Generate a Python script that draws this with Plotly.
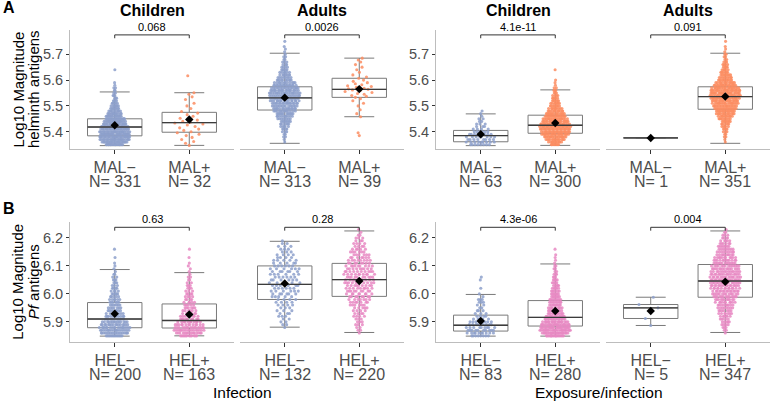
import numpy as np
import plotly.graph_objects as go

# ------------------------------------------------------------------ data
levels_A = [5.35, 5.36, 5.37, 5.38, 5.39, 5.40, 5.41, 5.42, 5.43, 5.44,
            5.45, 5.46, 5.47, 5.48, 5.49, 5.50, 5.51, 5.52, 5.53, 5.54,
            5.55, 5.56, 5.57, 5.58, 5.59, 5.60, 5.61, 5.62, 5.63, 5.64,
            5.65, 5.66, 5.67, 5.68, 5.69, 5.70, 5.71, 5.72, 5.73, 5.74,
            5.75, 5.76]
levels_B = [5.85, 5.86, 5.87, 5.88, 5.89, 5.90, 5.91, 5.92, 5.93, 5.94,
            5.95, 5.96, 5.97, 5.98, 5.99, 6.00, 6.01, 6.02, 6.03, 6.04,
            6.05, 6.06, 6.07, 6.08, 6.09, 6.10, 6.11, 6.12, 6.13, 6.14,
            6.15, 6.16, 6.17, 6.18, 6.19, 6.20, 6.21, 6.22, 6.23]

# counts of points per level
A_inf_child_neg = [20, 24, 26, 27, 27, 26, 25, 23, 21, 19, 17, 14, 13, 10, 8, 7, 5, 4, 3, 3,
                   2, 2, 2, 1, 1, 0, 0, 0, 0, 1, 0, 0, 0, 0, 0, 0, 0, 0, 0, 0, 0, 0]
A_inf_adult_neg = [0, 1, 1, 2, 2, 3, 4, 5, 6, 7, 8, 10, 12, 13, 15, 15, 17, 17, 19, 18,
                   20, 19, 17, 15, 12, 10, 8, 7, 6, 5, 4, 3, 3, 2, 2, 1, 1, 1, 1, 0, 1, 0]
A_exp_child_neg = [8, 9, 8, 8, 7, 6, 4, 3, 3, 2, 2, 1, 1, 1, 0, 0, 0, 0, 0, 0,
                   0, 0, 0, 0, 0, 0, 0, 0, 0, 0, 0, 0, 0, 0, 0, 0, 0, 0, 0, 0, 0, 0]
A_exp_child_pos = [8, 11, 14, 18, 21, 23, 24, 24, 23, 21, 19, 16, 14, 12, 10, 8, 7, 6, 5, 4,
                   3, 3, 2, 1, 1, 1, 0, 0, 0, 1, 0, 0, 0, 0, 0, 0, 0, 0, 0, 0, 0, 0]
A_exp_adult_pos = [0, 1, 1, 2, 2, 3, 4, 5, 6, 7, 9, 11, 13, 15, 16, 18, 18, 20, 21, 23,
                   23, 23, 20, 17, 13, 11, 9, 8, 6, 5, 4, 4, 3, 2, 2, 2, 1, 1, 1, 0, 1, 0]
# small groups: individual values
A_inf_child_pos = [5.347, 5.355, 5.362, 5.370, 5.378, 5.385, 5.390, 5.396, 5.400, 5.405,
                   5.410, 5.415, 5.420, 5.426, 5.430, 5.434, 5.437, 5.440, 5.445, 5.452,
                   5.460, 5.466, 5.472, 5.478, 5.490, 5.500, 5.510, 5.525, 5.535, 5.545,
                   5.551, 5.617]
A_inf_adult_pos = [5.385, 5.396, 5.458, 5.470, 5.485, 5.500, 5.510, 5.520, 5.528, 5.533,
                   5.537, 5.540, 5.545, 5.548, 5.552, 5.556, 5.560, 5.562, 5.564, 5.566,
                   5.568, 5.572, 5.575, 5.578, 5.582, 5.586, 5.590, 5.595, 5.600, 5.607,
                   5.612, 5.620, 5.630, 5.640, 5.650, 5.660, 5.670, 5.678, 5.685]
A_exp_adult_neg = [5.376]

B_inf_child_neg = [14, 18, 18, 18, 16, 14, 12, 10, 9, 8, 7, 7, 6, 6, 5, 5, 4, 4, 3, 3,
                   3, 2, 2, 1, 1, 1, 1, 0, 1, 0, 0, 1, 0, 0, 0, 0, 0, 0, 0]
B_inf_child_pos = [12, 15, 17, 15, 13, 11, 9, 8, 7, 6, 6, 5, 5, 4, 4, 4, 3, 3, 3, 2,
                   2, 2, 1, 1, 1, 1, 1, 0, 1, 0, 0, 1, 0, 0, 0, 0, 0, 0, 0]
B_inf_adult_neg = [0, 0, 0, 1, 2, 2, 2, 3, 3, 3, 3, 4, 4, 4, 5, 6, 6, 6, 6, 6,
                   6, 6, 6, 6, 6, 6, 5, 5, 4, 4, 3, 3, 3, 2, 1, 0, 0, 0, 0]
B_inf_adult_pos = [0, 1, 2, 2, 3, 3, 3, 4, 4, 4, 5, 6, 7, 7, 8, 8, 9, 9, 9, 10,
                   10, 10, 10, 10, 9, 9, 8, 8, 7, 6, 6, 5, 4, 4, 3, 3, 2, 1, 1]
B_exp_child_neg = [8, 10, 10, 9, 8, 8, 5, 4, 3, 3, 2, 2, 3, 3, 1, 1, 0, 1, 0, 0,
                   1, 1, 0, 0, 0, 0, 0, 0, 0, 0, 0, 0, 0, 0, 0, 0, 0, 0, 0]
B_exp_child_pos = [18, 24, 26, 25, 22, 19, 16, 13, 12, 11, 10, 10, 9, 9, 7, 7, 6, 6, 5, 4,
                   4, 3, 3, 2, 2, 2, 1, 1, 1, 1, 0, 1, 0, 0, 0, 0, 0, 0, 0]
B_exp_adult_pos = [0, 1, 2, 3, 4, 5, 5, 6, 7, 7, 8, 9, 10, 11, 13, 13, 15, 14, 16, 15,
                   16, 16, 16, 15, 15, 14, 13, 12, 11, 10, 9, 8, 7, 6, 5, 4, 3, 2, 1]
B_exp_adult_neg = [5.887, 5.912, 5.950, 5.962, 5.988]

# box statistics (order: inf child -/+, inf adult -/+, exp child -/+, exp adult -/+)
A_lower = [5.346, 5.347, 5.355, 5.458, 5.346, 5.347, 5.376, 5.355]
A_q1 = [5.384, 5.398, 5.484, 5.533, 5.361, 5.394, 5.376, 5.487]
A_median = [5.418, 5.435, 5.531, 5.564, 5.385, 5.425, 5.376, 5.536]
A_q3 = [5.450, 5.475, 5.574, 5.607, 5.405, 5.464, 5.376, 5.574]
A_upper = [5.554, 5.551, 5.704, 5.685, 5.469, 5.562, 5.376, 5.704]
A_mean = [5.425, 5.447, 5.532, 5.565, 5.390, 5.434, 5.376, 5.536]

B_lower = [5.849, 5.850, 5.881, 5.862, 5.849, 5.849, 5.887, 5.862]
B_q1 = [5.879, 5.878, 5.980, 5.991, 5.867, 5.885, 5.912, 5.988]
B_median = [5.910, 5.905, 6.034, 6.051, 5.888, 5.916, 5.950, 6.046]
B_q3 = [5.969, 5.964, 6.100, 6.109, 5.924, 5.976, 5.962, 6.105]
B_upper = [6.087, 6.076, 6.188, 6.225, 5.998, 6.107, 5.988, 6.225]
B_mean = [5.929, 5.926, 6.037, 6.046, 5.903, 5.939, 5.939, 6.043]

A_categories = ["MAL−", "MAL+"]
B_categories = ["HEL−", "HEL+"]
A_n = [331, 32, 313, 39, 63, 300, 1, 351]
B_n = [200, 163, 132, 220, 83, 280, 5, 347]
A_pvalues = ["0.068", "0.0026", "4.1e-11", "0.091"]
B_pvalues = ["0.63", "0.28", "4.3e-06", "0.004"]
facet_titles = ["Children", "Adults", "Children", "Adults"]
A_ticks = [5.4, 5.5, 5.6, 5.7]
B_ticks = [5.9, 6.0, 6.1, 6.2]


def expand(levels, counts):
    return [lv for lv, c in zip(levels, counts) for _ in range(c)]


A_groups = [expand(levels_A, A_inf_child_neg), A_inf_child_pos,
            expand(levels_A, A_inf_adult_neg), A_inf_adult_pos,
            expand(levels_A, A_exp_child_neg), expand(levels_A, A_exp_child_pos),
            A_exp_adult_neg, expand(levels_A, A_exp_adult_pos)]
B_groups = [expand(levels_B, B_inf_child_neg), expand(levels_B, B_inf_child_pos),
            expand(levels_B, B_inf_adult_neg), expand(levels_B, B_inf_adult_pos),
            expand(levels_B, B_exp_child_neg), expand(levels_B, B_exp_child_pos),
            B_exp_adult_neg, expand(levels_B, B_exp_adult_pos)]

# ------------------------------------------------------------------ style
W, H = 777, 401
FONT = "Liberation Sans, Arial, sans-serif"
BLUE, ORANGE, PINK = "#8DA0CB", "#FC8D62", "#E78AC3"
GREY_TXT = "#4D4D4D"
AXIS_LINE = "#BDBDBD"
PANEL_X = [(70, 234), (240, 404), (436, 600), (606, 770)]
ROW_Y = {"A": (30, 149), "B": (222, 341.7)}
RANGES = {"A": [5.333, 5.794], "B": [5.829, 6.257]}
BRACKET = {"A": (5.775, 0.013), "B": (6.238, 0.012)}
BOX_W = 0.73
HALF_SWARM = 0.21


def vdc(n, base=2):
    v, denom = 0.0, 1.0
    while n:
        denom *= base
        n, r = divmod(n, base)
        v += r / denom
    return v


def quasirandom(vals, half):
    vals = np.asarray(vals, float)
    n = len(vals)
    if n < 2:
        return np.zeros(n)
    sd = vals.std(ddof=1)
    q75, q25 = np.percentile(vals, [75, 25])
    s = min(sd, (q75 - q25) / 1.34) if q75 > q25 else sd
    bw = 0.9 * s * n ** -0.2 * 0.7
    d = (vals[:, None] - vals[None, :]) / bw
    dens = np.exp(-0.5 * d ** 2).sum(1)
    dens = dens / dens.max()
    order = np.argsort(vals, kind="stable")
    ranks = np.empty(n, int)
    ranks[order] = np.arange(1, n + 1)
    q = np.array([vdc(int(r)) for r in ranks])
    return (q * 2 - 1) * half * dens


fig = go.Figure()
layout = dict(width=W, height=H, margin=dict(l=0, r=0, t=0, b=0), autosize=False,
              paper_bgcolor="white", plot_bgcolor="white", showlegend=False,
              font=dict(family=FONT, color=GREY_TXT))
annotations = []


def px_x(px):
    return px / W


def px_y(py):
    return 1 - py / H


rows = [("A", A_groups, A_lower, A_q1, A_median, A_q3, A_upper, A_mean, A_categories, A_n, A_pvalues, A_ticks),
        ("B", B_groups, B_lower, B_q1, B_median, B_q3, B_upper, B_mean, B_categories, B_n, B_pvalues, B_ticks)]

for r, (row, groups, lo, q1, med, q3, up, mean, cats, ns, pvals, ticks) in enumerate(rows):
    pos_color = ORANGE if row == "A" else PINK
    top, bot = ROW_Y[row]
    for p in range(4):
        k = r * 4 + p + 1
        xa, ya = f"x{k}", f"y{k}"
        xl, xr = PANEL_X[p]
        layout[f"xaxis{k}"] = dict(
            domain=[px_x(xl), px_x(xr)], anchor=ya, range=[0.4, 2.6],
            tickvals=[1, 2], ticktext=cats, ticks="outside", ticklen=4,
            tickcolor="#333333", tickwidth=1, showline=True, linecolor=AXIS_LINE,
            linewidth=1, showgrid=False, zeroline=False,
            tickfont=dict(size=16, color=GREY_TXT, family=FONT), fixedrange=True)
        yax = dict(domain=[px_y(bot), px_y(top)], anchor=xa, range=RANGES[row],
                   showgrid=False, zeroline=False, fixedrange=True)
        if p in (0, 2):
            yax.update(tickvals=ticks, tickformat=".1f", ticks="outside", ticklen=3,
                       tickcolor="#333333", showline=True, linecolor=AXIS_LINE, linewidth=1,
                       tickfont=dict(size=14.5, color=GREY_TXT, family=FONT))
        else:
            yax.update(showticklabels=False, ticks="", showline=False)
        layout[f"yaxis{k}"] = yax

        # boxes
        for j in range(2):
            g = p * 2 + j
            fig.add_trace(go.Box(
                x=[j + 1], q1=[q1[g]], median=[med[g]], q3=[q3[g]],
                lowerfence=[lo[g]], upperfence=[up[g]], width=BOX_W, whiskerwidth=0.55,
                fillcolor="rgba(0,0,0,0)", line=dict(color="#7a7a7a", width=1),
                boxpoints=False, xaxis=xa, yaxis=ya, hoverinfo="skip"))
        # points
        for j in range(2):
            g = p * 2 + j
            vals = np.asarray(groups[g], float)
            offs = quasirandom(vals, HALF_SWARM)
            fig.add_trace(go.Scatter(
                x=(j + 1) + offs, y=vals, mode="markers", xaxis=xa, yaxis=ya,
                marker=dict(size=3.1, color=BLUE if j == 0 else pos_color, opacity=0.85,
                            line=dict(width=0)),
                hoverinfo="skip"))
        # medians (darker) and means
        for j in range(2):
            g = p * 2 + j
            fig.add_trace(go.Scatter(
                x=[j + 1 - BOX_W / 2, j + 1 + BOX_W / 2], y=[med[g], med[g]], mode="lines",
                line=dict(color="#3c3c3c", width=1.4), xaxis=xa, yaxis=ya, hoverinfo="skip"))
        fig.add_trace(go.Scatter(
            x=[1, 2], y=[mean[p * 2], mean[p * 2 + 1]], mode="markers", xaxis=xa, yaxis=ya,
            marker=dict(symbol="diamond", size=6.5, color="black", line=dict(width=0)),
            hoverinfo="skip"))
        # p-value bracket
        by, tip = BRACKET[row]
        fig.add_trace(go.Scatter(
            x=[1, 1, 2, 2], y=[by - tip, by, by, by - tip], mode="lines",
            line=dict(color="#333333", width=1), xaxis=xa, yaxis=ya,
            cliponaxis=False, hoverinfo="skip"))
        annotations.append(dict(x=1.5, y=by, xref=xa, yref=ya, text=pvals[p], showarrow=False,
                                yanchor="bottom", yshift=0,
                                font=dict(size=11, color="black", family=FONT)))
        # N labels
        n_y = 181 if row == "A" else 374
        for j in range(2):
            annotations.append(dict(x=j + 1, y=px_y(n_y), xref=xa, yref="paper",
                                    text=f"N= {ns[p * 2 + j]}", showarrow=False,
                                    yanchor="middle", xanchor="center",
                                    font=dict(size=16, color=GREY_TXT, family=FONT)))
        # facet titles (top row only)
        if row == "A":
            annotations.append(dict(x=px_x((xl + xr) / 2), y=px_y(10), xref="paper", yref="paper",
                                    text=f"<b>{facet_titles[p]}</b>", showarrow=False,
                                    yanchor="middle", xanchor="center",
                                    font=dict(size=16, color="black", family=FONT)))

# y axis titles
for row, ymid, second in [("A", 89.5, "helminth antigens"), ("B", 281.8, "<i>Pf</i> antigens")]:
    annotations.append(dict(x=px_x(18), y=px_y(ymid), xref="paper", yref="paper",
                            text="Log10 Magnitude", textangle=-90, showarrow=False,
                            xanchor="center", yanchor="middle",
                            font=dict(size=15, color="black", family=FONT)))
    annotations.append(dict(x=px_x(33.5), y=px_y(ymid), xref="paper", yref="paper",
                            text=second, textangle=-90, showarrow=False,
                            xanchor="center", yanchor="middle",
                            font=dict(size=15, color="black", family=FONT)))

# x axis titles
annotations.append(dict(x=px_x(242), y=px_y(392), xref="paper", yref="paper", text="Infection",
                        showarrow=False, xanchor="center", yanchor="middle",
                        font=dict(size=15.5, color="black", family=FONT)))
annotations.append(dict(x=px_x(599), y=px_y(392), xref="paper", yref="paper",
                        text="Exposure/infection", showarrow=False, xanchor="center",
                        yanchor="middle", font=dict(size=15.5, color="black", family=FONT)))

# panel letters
annotations.append(dict(x=px_x(1), y=px_y(7), xref="paper", yref="paper", text="<b>A</b>",
                        showarrow=False, xanchor="left", yanchor="middle",
                        font=dict(size=16, color="black", family=FONT)))
annotations.append(dict(x=px_x(1), y=px_y(209), xref="paper", yref="paper", text="<b>B</b>",
                        showarrow=False, xanchor="left", yanchor="middle",
                        font=dict(size=16, color="black", family=FONT)))

layout["annotations"] = annotations
fig.update_layout(**layout)
fig.write_html("out.html", config={"displayModeBar": False, "staticPlot": True},
               post_script="document.body.style.margin='0';document.body.style.overflow='hidden';")
